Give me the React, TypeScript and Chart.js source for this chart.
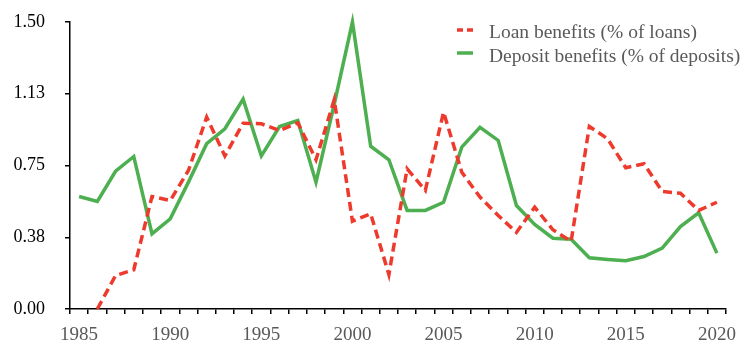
import React, { useEffect, useRef } from "react";
import { Chart, registerables } from "chart.js";

Chart.register(...registerables);

const years: string[] = [
  "1985", "1986", "1987", "1988", "1989", "1990", "1991", "1992", "1993", "1994",
  "1995", "1996", "1997", "1998", "1999", "2000", "2001", "2002", "2003", "2004",
  "2005", "2006", "2007", "2008", "2009", "2010", "2011", "2012", "2013", "2014",
  "2015", "2016", "2017", "2018", "2019", "2020",
];

const loanBenefits: (number | null)[] = [
  null, 0.0, 0.175, 0.205, 0.588, 0.567, 0.724, 1.003, 0.8, 0.971,
  0.968, 0.933, 0.973, 0.78, 1.094, 0.459, 0.498, 0.18, 0.733, 0.62,
  1.029, 0.715, 0.585, 0.489, 0.4, 0.532, 0.414, 0.354, 0.954, 0.89,
  0.738, 0.759, 0.614, 0.605, 0.515, 0.558,
];

const depositBenefits: number[] = [
  0.588, 0.562, 0.72, 0.797, 0.393, 0.471, 0.663, 0.864, 0.942, 1.097,
  0.8, 0.954, 0.985, 0.663, 1.07, 1.5, 0.851, 0.78, 0.515, 0.515,
  0.558, 0.846, 0.95, 0.881, 0.541, 0.442, 0.37, 0.365, 0.268, 0.259,
  0.252, 0.274, 0.318, 0.431, 0.503, 0.292,
];

const yTickValues: number[] = [0, 0.375, 0.75, 1.125, 1.5];
const xLabelYears: string[] = ["1985", "1990", "1995", "2000", "2005", "2010", "2015", "2020"];

const seriesNames: string[] = ["Loan benefits (% of loans)", "Deposit benefits (% of deposits)"];
const RED = "#EE3A2C";
const GREEN = "#4DAF50";
const FONT = '"Liberation Serif", "Times New Roman", serif';

const legendPlugin = {
  id: "customLegend",
  afterDraw(chart: any) {
    const ctx = chart.ctx;
    const items = chart.data.datasets;
    const x0 = 457;
    const sampleRows = [30, 53];
    const textRows = [33, 57];
    const dashes = [[6, 4], []];
    ctx.save();
    items.forEach((ds: any, i: number) => {
      ctx.beginPath();
      ctx.strokeStyle = ds.borderColor;
      ctx.lineWidth = 3.5;
      ctx.setLineDash(dashes[i]);
      ctx.moveTo(x0, sampleRows[i]);
      ctx.lineTo(x0 + 16, sampleRows[i]);
      ctx.stroke();
      ctx.setLineDash([]);
      ctx.fillStyle = "#595959";
      ctx.font = `19.5px ${FONT}`;
      ctx.textBaseline = "middle";
      ctx.textAlign = "left";
      ctx.fillText(ds.label, 489, textRows[i]);
    });
    ctx.restore();
  },
};

export default function App() {
  const canvasRef = useRef<HTMLCanvasElement | null>(null);

  useEffect(() => {
    document.body.style.margin = "0";
    const canvas = canvasRef.current;
    if (!canvas) return;
    const chart = new Chart(canvas, {
      type: "line",
      data: {
        labels: years,
        datasets: [
          {
            label: seriesNames[0],
            data: loanBenefits,
            borderColor: RED,
            backgroundColor: RED,
            borderWidth: 3.5,
            borderDash: [9, 5],
            pointRadius: 0,
            tension: 0,
            clip: false as any,
            spanGaps: false,
          },
          {
            label: seriesNames[1],
            data: depositBenefits,
            borderColor: GREEN,
            backgroundColor: GREEN,
            borderWidth: 3.5,
            pointRadius: 0,
            tension: 0,
            clip: false as any,
          },
        ],
      },
      options: {
        responsive: false,
        animation: false,
        layout: { padding: { top: 22, right: 24, left: 0, bottom: 0 } },
        plugins: {
          legend: { display: false },
          tooltip: { enabled: false },
        },
        scales: {
          x: {
            type: "category",
            offset: true,
            grid: {
              offset: true,
              drawOnChartArea: false,
              drawTicks: true,
              tickLength: 5,
              color: "#000",
              lineWidth: 1.5,
            },
            border: { display: true, color: "#000", width: 1.5 },
            ticks: {
              autoSkip: false,
              maxRotation: 0,
              minRotation: 0,
              color: "#595959",
              font: { family: FONT, size: 19 },
              padding: 10,
              callback: function (this: any, value: any) {
                const lbl = this.getLabelForValue(value);
                return xLabelYears.includes(lbl) ? lbl : "";
              },
            },
            afterFit: (scale: any) => {
              scale.height = 52;
              scale.paddingLeft = 0;
              scale.paddingRight = 0;
            },
          },
          y: {
            min: 0,
            max: 1.5,
            grid: {
              drawOnChartArea: false,
              drawTicks: true,
              tickLength: 5,
              color: "#000",
              lineWidth: 1.5,
            },
            border: { display: true, color: "#000", width: 1.5 },
            ticks: {
              color: "#000",
              font: { family: FONT, size: 18 },
              padding: 20,
              callback: (v: any) => Number(v).toFixed(2),
            },
            afterBuildTicks: (scale: any) => {
              scale.ticks = yTickValues.map((v) => ({ value: v }));
            },
            afterFit: (scale: any) => {
              scale.width = 70;
              scale.paddingTop = 0;
              scale.paddingBottom = 0;
            },
          },
        },
      },
      plugins: [legendPlugin],
    });
    return () => chart.destroy();
  }, []);

  return (
    <div style={{ width: 750, height: 361, background: "#fff" }}>
      <canvas ref={canvasRef} width={750} height={361} />
    </div>
  );
}
